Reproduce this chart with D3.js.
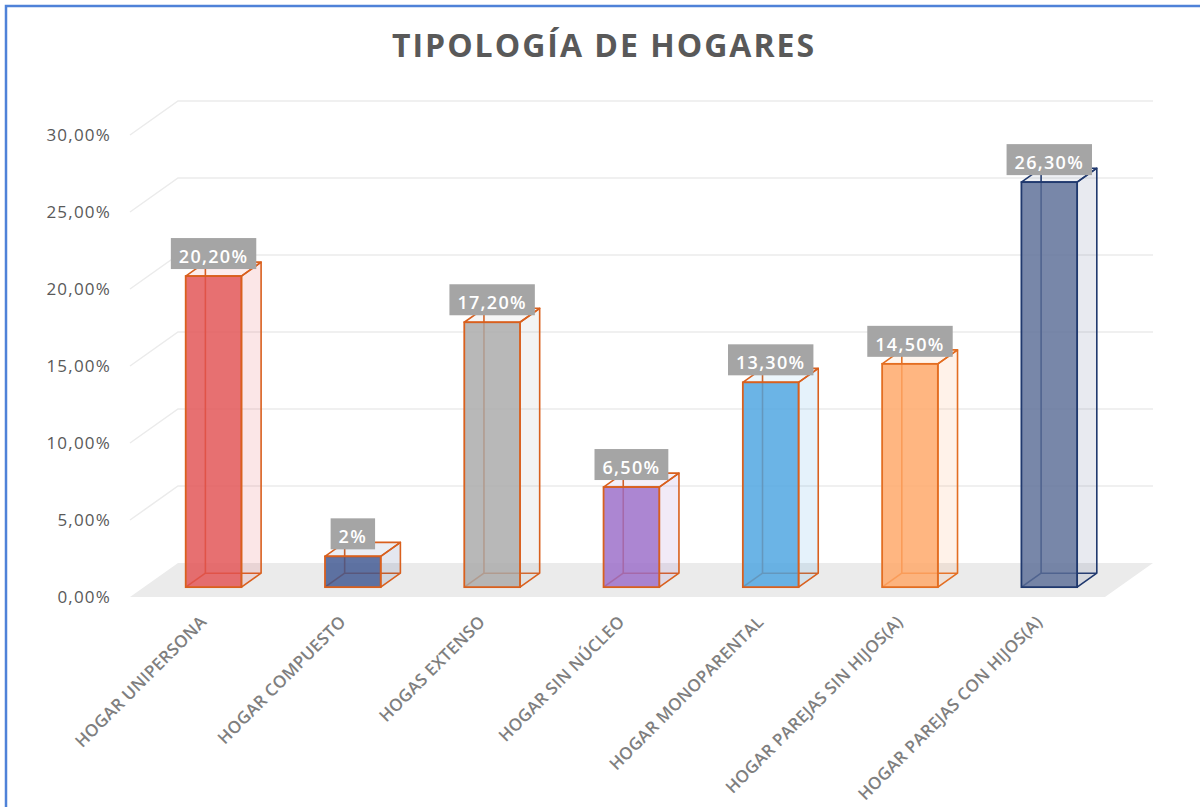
<!DOCTYPE html>
<html>
<head><meta charset="utf-8"/>
<style>
  body { margin: 0; background: #fff; }
  svg { display: block; background: #fff; }
  .ytick { font: 17px "Open Sans", sans-serif; fill: #595959; letter-spacing: 1.2px; }
  .xlab { font: 600 17px "Open Sans", sans-serif; fill: #7f7f7f; letter-spacing: 0.2px; }
  .vlab { font: 600 18px "Open Sans", sans-serif; fill: #fff; letter-spacing: 1.3px; }
  .grid { stroke: #ebebeb; stroke-width: 1.5; fill: none; }
</style>
</head>
<body>
<div id="chart"></div>
<script src="https://cdn.jsdelivr.net/npm/d3@7"></script>
<script>

// data
var categories = ["HOGAR UNIPERSONA", "HOGAR COMPUESTO", "HOGAS EXTENSO", "HOGAR SIN NÚCLEO",
                  "HOGAR MONOPARENTAL", "HOGAR PAREJAS SIN HIJOS(A)", "HOGAR PAREJAS CON HIJOS(A)"];
var values = [20.2, 2, 17.2, 6.5, 13.3, 14.5, 26.3];
var valueLabels = ["20,20%", "2%", "17,20%", "6,50%", "13,30%", "14,50%", "26,30%"];
var yTicks = [0, 5, 10, 15, 20, 25, 30];
var yTickLabels = ["0,00%", "5,00%", "10,00%", "15,00%", "20,00%", "25,00%", "30,00%"];
var fillColors = ["#e25052", "#3d5590", "#a8a8a8", "#9a6bc8", "#4aa3e0", "#ffa665", "#5a6d96"];
var edgeColors = ["#d9601e", "#d9601e", "#d9601e", "#d9601e", "#d9601e", "#e36e22", "#20396e"];

var W = 1200, H = 807;
var DX = 48, DY = -34;          // depth vector of the floor
var d0 = 0.29, d1 = 0.70;       // bar depth range

var svg = d3.select("#chart").append("svg")
    .attr("width", W)
    .attr("height", H);

// frame
svg.append("rect")
    .attr("x", 6).attr("y", 6)
    .attr("width", 1300).attr("height", 900)
    .attr("fill", "none")
    .attr("stroke", "#4f82d8")
    .attr("stroke-width", 2.5);

var x = d3.scaleBand()
    .domain(categories)
    .range([130, 1105])
    .paddingInner(0.6)
    .paddingOuter(0.3);

var y = d3.scaleLinear()
    .domain([0, 30])
    .range([597, 135]);

function pt(px, v, d) {
    return [px + d * DX, y(v) + d * DY];
}

// floor
var x0 = 130, x1 = 1105;
svg.append("polygon")
    .attr("points", [pt(x0, 0, 0), pt(x0, 0, 1), pt(x1, 0, 1), pt(x1, 0, 0)].join(" "))
    .attr("fill", "#ebebeb");

// gridlines: side diagonal + back wall
yTicks.filter(function(t) { return t > 0; }).forEach(function(t) {
    svg.append("polyline")
        .attr("class", "grid")
        .attr("points", [pt(x0, t, 0), pt(x0, t, 1), pt(x1, t, 1)].join(" "));
});

// y tick labels
svg.selectAll(".ytick")
    .data(yTicks)
    .enter().append("text")
    .attr("class", "ytick")
    .attr("x", 111)
    .attr("y", function(d) { return y(d) + 6; })
    .attr("text-anchor", "end")
    .text(function(d, i) { return yTickLabels[i]; });

// bars as 3d boxes
var bw = x.bandwidth();
categories.forEach(function(c, i) {
    var v = values[i], xl = x(c), xr = xl + bw;
    var g = svg.append("g");
    var col = fillColors[i], edge = edgeColors[i];

    // hidden edges, seen through the front face
    g.append("polyline")
        .attr("points", [pt(xl, v, d1), pt(xl, 0, d1), pt(xr, 0, d1)].join(" "))
        .attr("fill", "none").attr("stroke", edge).attr("stroke-width", 1.6);
    g.append("line")
        .attr("x1", pt(xl, 0, d0)[0]).attr("y1", pt(xl, 0, d0)[1])
        .attr("x2", pt(xl, 0, d1)[0]).attr("y2", pt(xl, 0, d1)[1])
        .attr("stroke", edge).attr("stroke-width", 1.6);

    // right side
    g.append("polygon")
        .attr("points", [pt(xr, 0, d0), pt(xr, 0, d1), pt(xr, v, d1), pt(xr, v, d0)].join(" "))
        .attr("fill", col).attr("fill-opacity", 0.14)
        .attr("stroke", edge).attr("stroke-width", 1.6).attr("stroke-linejoin", "round");
    // top
    g.append("polygon")
        .attr("points", [pt(xl, v, d0), pt(xr, v, d0), pt(xr, v, d1), pt(xl, v, d1)].join(" "))
        .attr("fill", col).attr("fill-opacity", 0.1)
        .attr("stroke", edge).attr("stroke-width", 1.6).attr("stroke-linejoin", "round");
    // front
    var f0 = pt(xl, v, d0), f1 = pt(xr, 0, d0);
    g.append("rect")
        .attr("x", f0[0]).attr("y", f0[1])
        .attr("width", f1[0] - f0[0]).attr("height", f1[1] - f0[1])
        .attr("fill", col).attr("fill-opacity", 0.82)
        .attr("stroke", edge).attr("stroke-width", 1.8);

    // value label
    var cx = (f0[0] + f1[0]) / 2;
    var lg = svg.append("g");
    var box = lg.append("rect").attr("fill", "#a5a5a5");
    var t = lg.append("text")
        .attr("class", "vlab")
        .attr("x", cx)
        .attr("y", f0[1] - 13)
        .attr("text-anchor", "middle")
        .text(valueLabels[i]);
    var tw = t.node().getComputedTextLength();
    box.attr("x", cx - tw / 2 - 8).attr("width", tw + 16)
        .attr("y", f0[1] - 38).attr("height", 31);
});

// category labels
svg.selectAll(".xlab")
    .data(categories)
    .enter().append("text")
    .attr("class", "xlab")
    .attr("text-anchor", "end")
    .attr("transform", function(d) {
        var cx = x(d) + bw / 2;
        return "translate(" + (cx + 8) + ",623) rotate(-45)";
    })
    .text(function(d) { return d; });

// title
svg.append("text")
    .attr("x", 604)
    .attr("y", 57)
    .attr("text-anchor", "middle")
    .style("font", "bold 32px 'Open Sans', sans-serif")
    .style("letter-spacing", "2px")
    .style("fill", "#595959")
    .text("TIPOLOGÍA DE HOGARES");

</script>
</body>
</html>
